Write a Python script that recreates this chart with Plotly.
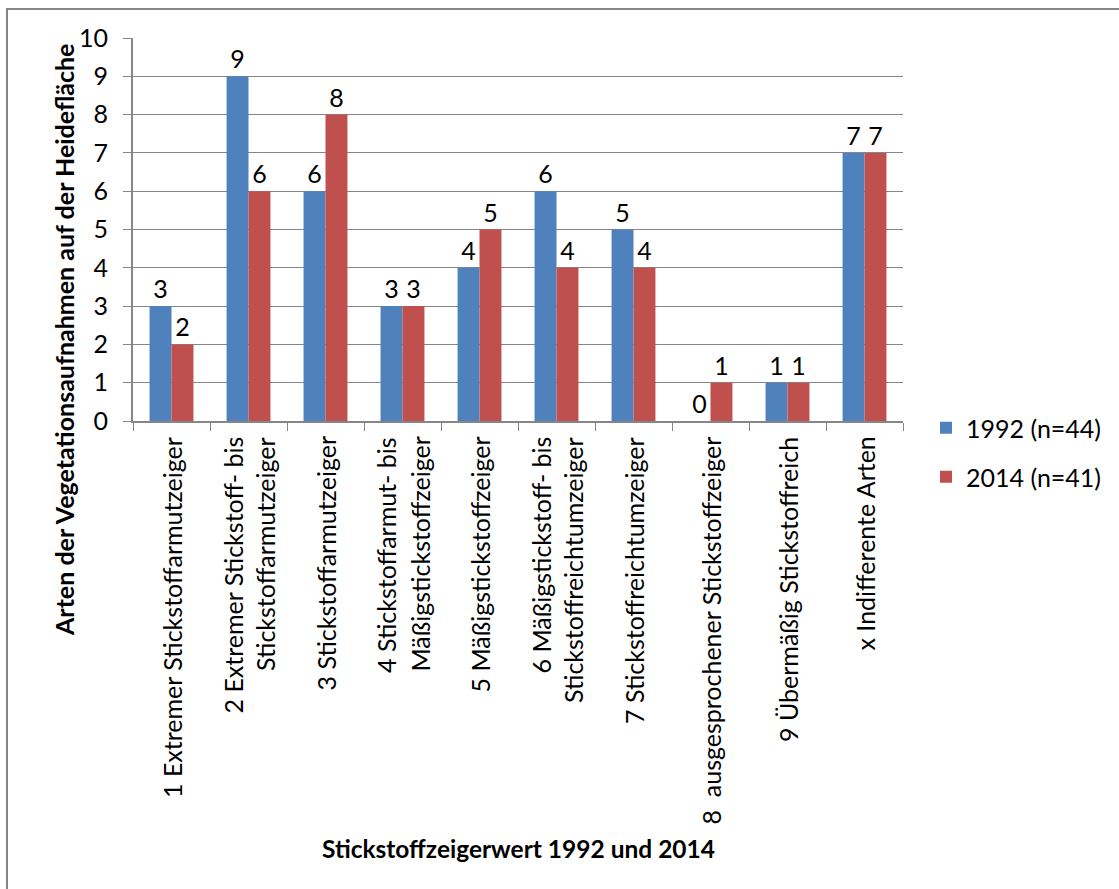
import plotly.graph_objects as go

W, H = 1119, 889
L, R, T, B = 133, 903, 38, 421  # plot area edges in pixels

categories = [
    "1 Extremer Stickstoffarmutzeiger",
    "2 Extremer Stickstoff- bis<br>Stickstoffarmutzeiger",
    "3 Stickstoffarmutzeiger",
    "4 Stickstoffarmut- bis<br>Mäßigstickstoffzeiger",
    "5 Mäßigstickstoffzeiger",
    "6 Mäßigstickstoff- bis<br>Stickstoffreichtumzeiger",
    "7 Stickstoffreichtumzeiger",
    "8  ausgesprochener Stickstoffzeiger",
    "9 Übermäßig Stickstoffreich",
    "x Indifferente Arten",
]
values_1992 = [3, 9, 6, 3, 4, 6, 5, 0, 1, 7]
values_2014 = [2, 6, 8, 3, 5, 4, 4, 1, 1, 7]
series_names = ["1992 (n=44)", "2014 (n=41)"]
y_ticks = list(range(0, 11))

FONT = "Lato"
FS = 25
BLUE = "#4F81BD"
RED = "#C0504D"
GRID = "#868686"


def px(x):
    return (x - L) / (R - L)


def py(y):
    return (B - y) / (B - T)


x_idx = list(range(len(categories)))

fig = go.Figure()
for name, vals, col, leg in [
    (series_names[0], values_1992, BLUE, "legend"),
    (series_names[1], values_2014, RED, "legend2"),
]:
    fig.add_trace(go.Bar(
        x=x_idx, y=vals, name=name, marker=dict(color=col, line=dict(width=0)),
        text=[str(v) for v in vals], textposition="outside",
        textfont=dict(family=FONT, size=FS, color="black"),
        constraintext="none", cliponaxis=False, legend=leg, showlegend=True,
    ))

annotations = []
# category labels, rotated, lines centred on each other
line_gap = 33
for i, lab in enumerate(categories):
    lines = lab.split("<br>")
    n = len(lines)
    for j, ln in enumerate(lines):
        annotations.append(dict(
            x=i, xref="x", y=py(B + 14), yref="paper",
            text=ln, textangle=-90, showarrow=False,
            xanchor="center", yanchor="top",
            xshift=(j - (n - 1) / 2) * line_gap,
            font=dict(family=FONT, size=FS, color="black"),
        ))

# axis titles
annotations.append(dict(
    x=px(518), y=py(848), xref="paper", yref="paper",
    text="<b>Stickstoffzeigerwert 1992 und 2014</b>", showarrow=False,
    xanchor="center", yanchor="middle",
    font=dict(family=FONT, size=24.5, color="black"),
))
annotations.append(dict(
    x=px(64), y=py(340), xref="paper", yref="paper",
    text="<b>Arten der Vegetationsaufnahmen auf der Heidefläche</b>",
    textangle=-90, showarrow=False, xanchor="center", yanchor="middle",
    font=dict(family=FONT, size=25, color="black"),
))

fig.update_layout(
    width=W, height=H,
    margin=dict(l=L, r=W - R, t=T, b=H - B),
    paper_bgcolor="white", plot_bgcolor="white",
    barmode="group", bargap=0.43, bargroupgap=0,
    font=dict(family=FONT, size=FS, color="black"),
    annotations=annotations,
    showlegend=True,
    legend=dict(x=px(926), y=py(428), xanchor="left", yanchor="middle",
                font=dict(family=FONT, size=FS, color="black"),
                bgcolor="rgba(0,0,0,0)"),
    legend2=dict(x=px(926), y=py(477), xanchor="left", yanchor="middle",
                 font=dict(family=FONT, size=FS, color="black"),
                 bgcolor="rgba(0,0,0,0)"),
    shapes=[dict(type="rect", xref="paper", yref="paper",
                 x0=px(7), y0=py(9), x1=px(1140), y1=py(910),
                 line=dict(color=GRID, width=2), layer="below")],
)

fig.update_xaxes(
    type="category", tickmode="array", tickvals=x_idx, ticktext=[""] * len(x_idx),
    tickson="boundaries", ticks="outside", ticklen=8, tickcolor=GRID,
    showline=True, linecolor=GRID, linewidth=2, showgrid=False,
    range=[-0.5, len(categories) - 0.5], zeroline=False,
)
fig.update_yaxes(
    range=[0, 10], tickmode="array", tickvals=y_ticks,
    ticks="outside", ticklen=8, tickcolor=GRID,
    showline=True, linecolor=GRID, linewidth=2,
    showgrid=True, gridcolor=GRID, gridwidth=1, zeroline=False,
    ticklabelstandoff=10, tickfont=dict(family=FONT, size=FS, color="black"),
)

fig.write_html("out.html")
